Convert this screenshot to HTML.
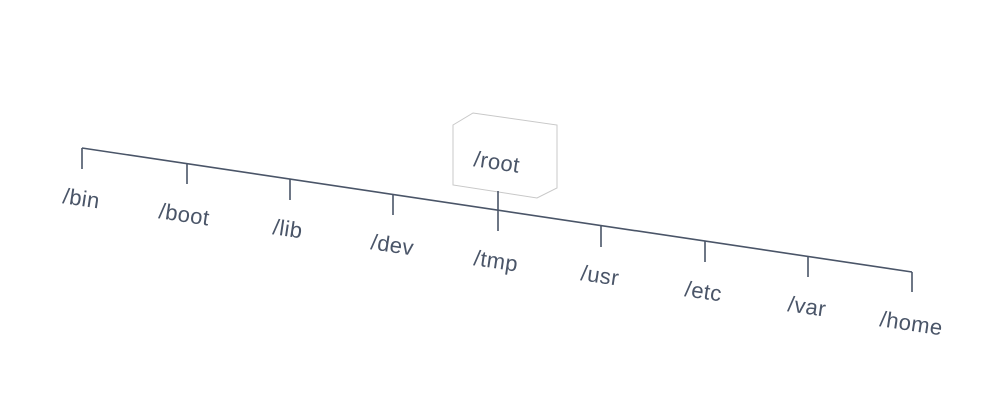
<!DOCTYPE html>
<html><head><style>html,body{margin:0;background:#fff;}svg{display:block}</style></head>
<body>
<svg width="1000" height="420" viewBox="0 0 1000 420" xmlns="http://www.w3.org/2000/svg">
<polygon points="453,125 473,113 557,125 557,188 537,198 453,185" fill="#fff" stroke="#c8c8c8" stroke-width="1"/>
<g stroke="#4a5568" stroke-width="1.6" fill="none">
<line x1="82" y1="148" x2="912" y2="272"/>
<line x1="82" y1="148" x2="82" y2="169"/>
<line x1="187" y1="164" x2="187" y2="184"/>
<line x1="290" y1="179" x2="290" y2="200"/>
<line x1="393" y1="195" x2="393" y2="215"/>
<line x1="498" y1="191" x2="498" y2="231"/>
<line x1="601" y1="226" x2="601" y2="247"/>
<line x1="705" y1="241" x2="705" y2="262"/>
<line x1="808" y1="257" x2="808" y2="277"/>
<line x1="912" y1="272" x2="912" y2="292"/>
</g>
<g font-family="Liberation Sans, sans-serif" font-size="22" letter-spacing="0.4" fill="#4a5568">
<text transform="translate(473,166) rotate(8.5)">/root</text>
<text transform="translate(62,203) rotate(8.5)">/bin</text>
<text transform="translate(158,218) rotate(8.5)">/boot</text>
<text transform="translate(272,234) rotate(8.5)">/lib</text>
<text transform="translate(370,249) rotate(8.5)">/dev</text>
<text transform="translate(473,265) rotate(8.5)">/tmp</text>
<text transform="translate(580,280) rotate(8.5)">/usr</text>
<text transform="translate(684,296) rotate(8.5)">/etc</text>
<text transform="translate(787,311) rotate(8.5)">/var</text>
<text transform="translate(879,326) rotate(8.5)">/home</text>
</g>
</svg>
</body></html>
